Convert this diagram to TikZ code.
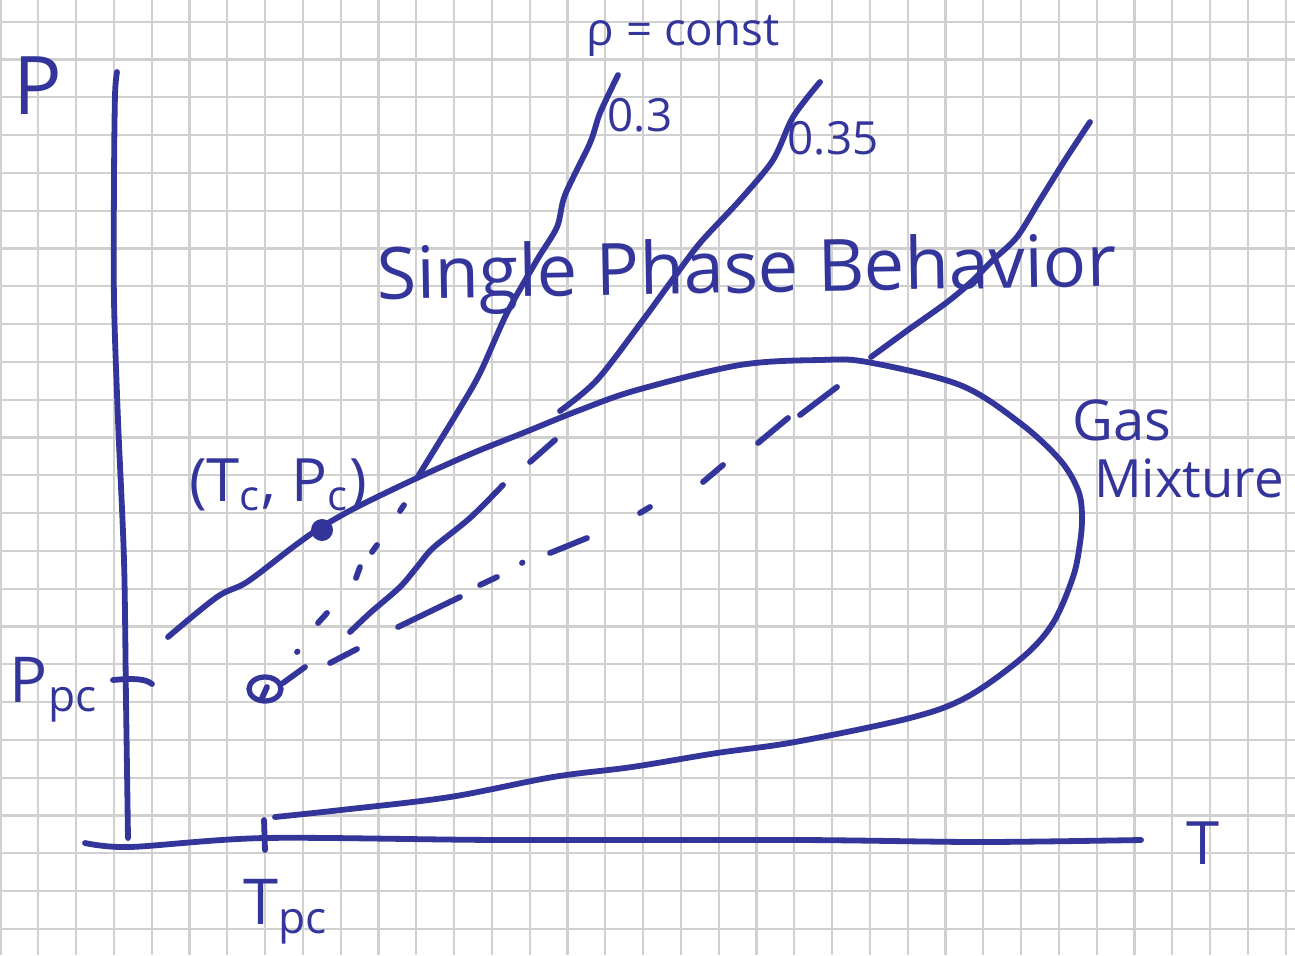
\documentclass[tikz,border=0pt]{standalone}
\usepackage{fontspec}
\setmainfont{Open Sans}
\usepackage{xcolor}
\definecolor{ink}{HTML}{33359A}
\definecolor{paper}{HTML}{D0D0D0}
\usepackage{tikz}
\usetikzlibrary{shapes.geometric}

\begin{document}
\begin{tikzpicture}[x=0.01cm, y=-0.01cm,
    grid/.style={draw=paper, line width=0.65pt},
    pen/.style={draw=ink, line width=1.65pt, line cap=round, line join=round},
    hand/.style={text=ink, inner sep=0pt}]
  \fill[white] (0,0) rectangle (1295,955);
  \useasboundingbox (0,0) rectangle (1295,955);
  % squared paper
  \foreach \k in {0,...,34}
    \draw[grid] ({0.5+37.8*\k}, 0) -- ({0.5+37.8*\k}, 955);
  \foreach \k in {0,...,24}
    \draw[grid] (0, {21.7+37.8*\k}) -- (1295, {21.7+37.8*\k});

  % axes
  \draw[pen] plot[smooth] coordinates {(117,72) (115,95) (114,180) (114,300) (118,420) (124,560) (126,700) (128,838)};
  \draw[pen] plot[smooth] coordinates {(85,843) (130,847) (265,838) (500,840) (800,840) (980,842) (1141,840)};
  \draw[pen] (264,820) -- (265,850);
  \draw[pen] (113,680) .. controls (135,678) and (146,679) .. (152,684);
  \node[hand, font=\fontsize{23}{26}\selectfont] (plab) at (38,86) {P};
  \node[hand, font=\fontsize{17}{20}\selectfont] (tlab) at (1203,843) {T};
  \node[hand, font=\fontsize{18}{21}\selectfont] (ppc) at (54,690) {P\textsubscript{pc}};
  \node[hand, font=\fontsize{18}{21}\selectfont] (tpc) at (286,912) {T\textsubscript{pc}};

  % phase envelope
  \draw[pen] plot[smooth, tension=0.55] coordinates {(168,637) (217,597) (247,582) (293,547) (320,528)
    (357,507) (417,478) (473,453) (523,433) (580,410) (637,390) (740,365) (820,360) (867,362)
    (960,385) (1020,423) (1060,460) (1078,490) (1082,515) (1080,543) (1073,577) (1053,623)
    (1023,657) (967,697) (910,718) (795,742) (717,753) (632,767) (553,777) (450,797) (341,810) (275,817)};
  \coordinate (e1) at (417,478);
  \coordinate (e2) at (560,411);
  \coordinate (e3) at (871,357);
  \node[circle, fill=ink, inner sep=0pt, minimum size=0.22cm] (crit) at (322,530) {};
  \node[ellipse, draw=ink, line width=1.5pt, inner sep=0pt, minimum width=0.32cm, minimum height=0.24cm] (pseudo) at (265,689) {};
  \draw[pen] (262,698) -- (267,687);
  \node[hand, font=\fontsize{17}{20}\selectfont] (critlab) at (278,485) {(T\textsubscript{c}, P\textsubscript{c})};

  % constant density lines
  \draw[pen] plot[smooth] coordinates {(e1) (457,413) (480,373) (507,313) (537,260) (557,227) (565,195) (590,143) (600,113) (618,75)};
  \draw[pen] plot[smooth] coordinates {(e2) (597,380) (643,320) (670,283) (700,243) (740,200) (773,160) (793,117) (820,82)};
  \draw[pen] plot[smooth] coordinates {(e3) (908,330) (946,303) (970,283) (993,260) (1017,237) (1040,200) (1065,160) (1090,122)};
  \foreach \xa/\ya/\xb/\yb in {400/511/404/505, 372/552/377/545, 356/578/360/567, 318/623/327/613, 297/652/297.5/651.5,
      530/462/555/440,
      283/683/305/667, 330/663/357/649, 398/627/460/597, 480/585/497/577, 522/563/522.5/562.5,
      550/553/587/538, 640/513/650/507, 703/482/723/465, 758/443/788/418, 800/415/837/387}
    \draw[pen] (\xa,\ya) -- (\xb,\yb);
  \draw[pen] plot[smooth] coordinates {(350,632) (370,613) (400,587) (417,567) (433,548) (470,518) (503,485)};

  \node[hand, font=\fontsize{13}{16}\selectfont] (rholab) at (683,36) {ρ = const};
  \node[hand, font=\fontsize{13}{16}\selectfont] (rho1) at (640,115) {0.3};
  \node[hand, font=\fontsize{13}{16}\selectfont] (rho2) at (833,138) {0.35};
  \node[hand, font=\fontsize{20.5}{24}\selectfont, rotate=1] (single) at (747,274) {Single Phase Behavior};
  \node[hand, font=\fontsize{16}{19}\selectfont] (gas) at (1122,420) {Gas};
  \node[hand, font=\fontsize{15}{18}\selectfont] (mix) at (1189,478) {Mixture};
\end{tikzpicture}
\end{document}
